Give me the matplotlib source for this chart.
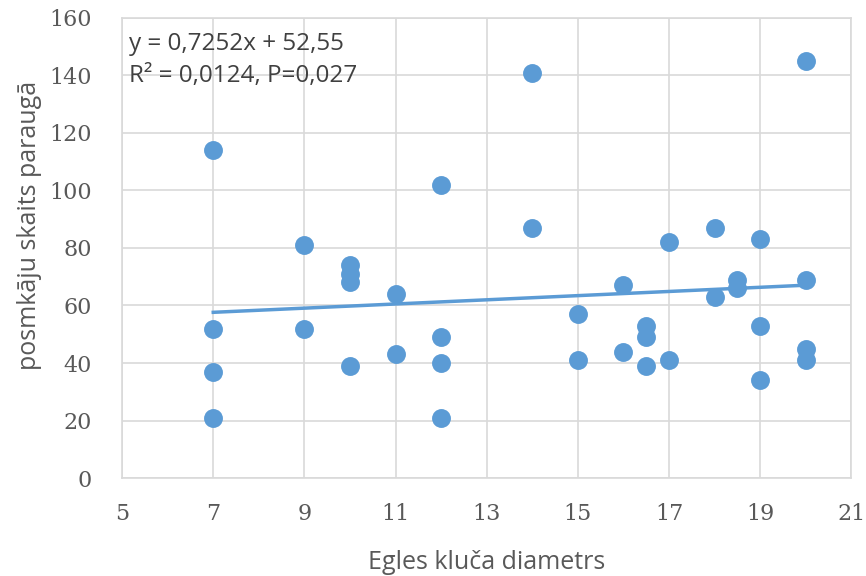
import matplotlib.pyplot as plt
import numpy as np

diam = [7, 7, 7, 7, 9, 9, 10, 10, 10, 10, 11, 11, 12, 12, 12, 12, 14, 14, 15, 15,
        16, 16, 16.5, 16.5, 16.5, 17, 17, 18, 18, 18.5, 18.5, 19, 19, 19, 20, 20, 20, 20]
count = [114, 52, 37, 21, 81, 52, 74, 71, 68, 39, 64, 43, 102, 49, 40, 21, 141, 87, 57, 41,
         67, 44, 53, 49, 39, 82, 41, 87, 63, 69, 66, 83, 53, 34, 145, 69, 45, 41]
slope = 0.7252
intercept = 52.55

blue = '#5b9bd5'
grey = '#595959'

fig = plt.figure(figsize=(8.66, 5.76), dpi=100)
ax = fig.add_axes([0.141, 0.170, 0.842, 0.799])

ax.scatter(diam, count, s=185, color=blue, zorder=3, linewidths=0)
xs = np.array([min(diam), max(diam)])
ax.plot(xs, slope * xs + intercept, color=blue, lw=2.5, zorder=2)

ax.set_xlim(5, 21)
ax.set_ylim(0, 160)
ax.set_xticks(range(5, 22, 2))
ax.set_yticks(range(0, 161, 20))
ax.grid(True, color='#d9d9d9', lw=1.2)
ax.set_axisbelow(True)
for s in ax.spines.values():
    s.set_color('#d9d9d9')
    s.set_linewidth(1.2)
ax.tick_params(length=0, colors=grey, labelsize=16)
ax.tick_params(axis='x', pad=18)
ax.tick_params(axis='y', pad=22)
for lab in ax.get_xticklabels() + ax.get_yticklabels():
    lab.set_family('DejaVu Serif')

ax.set_xlabel('Egles kluča diametrs', fontsize=18, color=grey, family='Open Sans', labelpad=18)
ax.set_ylabel('posmkāju skaits paraugā', fontsize=18, color=grey, family='Open Sans')
ax.yaxis.set_label_coords(-0.11, 0.55)

ax.text(0.01, 0.97, 'y = 0,7252x + 52,55\nR² = 0,0124, P=0,027', transform=ax.transAxes,
        fontsize=17.5, color='#404040', family='Open Sans', va='top', linespacing=1.45)

plt.savefig('out.png', dpi=100)
